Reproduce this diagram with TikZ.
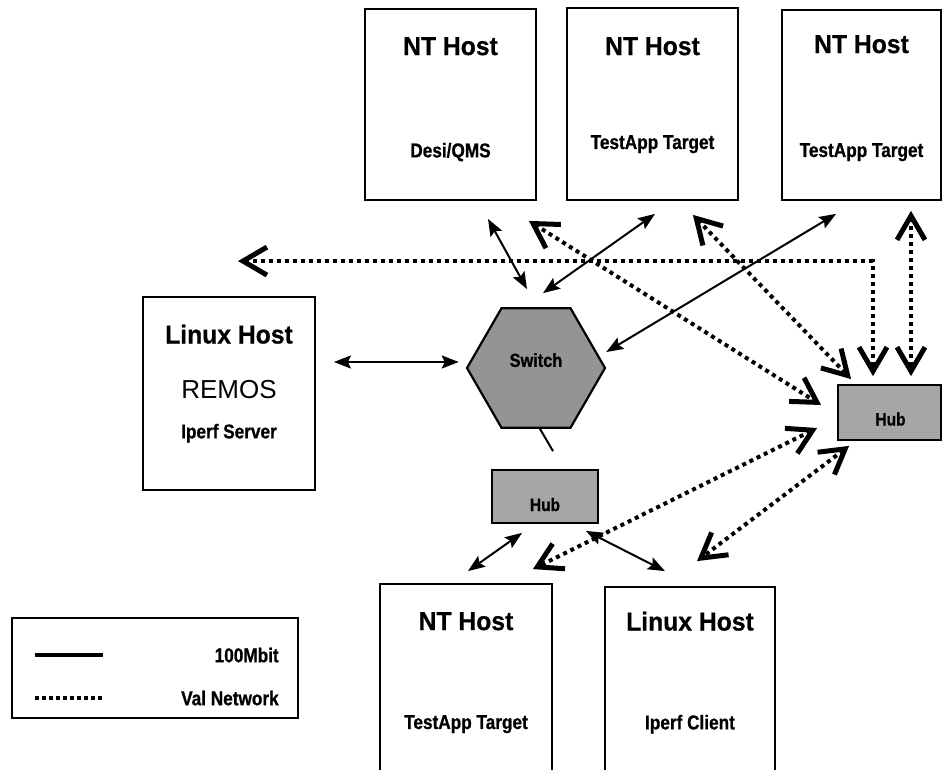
\documentclass[tikz,border=0pt]{standalone}
\usepackage{fontspec}
\setmainfont{Liberation Sans}
\newfontfamily\hostfont[FakeStretch=0.95,FakeBold=0.6]{Liberation Sans}
\newfontfamily\notefont[FakeStretch=0.86,FakeBold=0.8]{Liberation Sans}
\usetikzlibrary{arrows.meta,shapes.geometric}

\begin{document}
\begin{tikzpicture}[
    x = 1pt, y = -1pt,
    box/.style = {
      draw,
      line width = 1.8pt,
      inner sep = 0pt
    },
    hub/.style = {
      box,
      fill = black!35
    },
    title/.style = {
      font = \hostfont\bfseries\fontsize{26}{26}\selectfont,
      text depth = 0pt,
      inner sep = 0pt
    },
    task/.style = {
      font = \notefont\bfseries\fontsize{20}{20}\selectfont,
      text depth = 0pt,
      inner sep = 0pt
    },
    link/.style = {
      line width = 2pt,
      {Stealth[length = 17pt, width = 13pt, inset = 3pt]}-{Stealth[length = 17pt, width = 13pt, inset = 3pt]}
    },
    val/.style = {
      line width = 4pt,
      dash pattern = on 4pt off 4pt,
      {Straight Barb[length = 24pt, width = 28pt, line width = 5pt]}-{Straight Barb[length = 24pt, width = 28pt, line width = 5pt]}
    }
  ]
  \clip (0,0) rectangle (943,770);

  % hosts on top
  \node[box, minimum width = 171pt, minimum height = 191pt] (nt1) at (450.5,104.5) {};
  \node[title] (nt1t) at ([yshift=-38pt]nt1.north) {NT Host};
  \node[task] (nt1s) at ([yshift=-142pt]nt1.north) {Desi/QMS};

  \node[box, minimum width = 171pt, minimum height = 192pt] (nt2) at (652.5,104) {};
  \node[title] (nt2t) at ([yshift=-39pt]nt2.north) {NT Host};
  \node[task] (nt2s) at ([yshift=-135pt]nt2.north) {TestApp Target};

  \node[box, minimum width = 159pt, minimum height = 190pt] (nt3) at (861.5,105) {};
  \node[title] (nt3t) at ([yshift=-35pt]nt3.north) {NT Host};
  \node[task] (nt3s) at ([yshift=-141pt]nt3.north) {TestApp Target};

  % linux host with remos
  \node[box, minimum width = 172pt, minimum height = 193pt] (remos) at (229,393.5) {};
  \node[title] (remost) at ([yshift=-38pt]remos.north) {Linux Host};
  \node[font = \fontsize{26}{26}\selectfont, text depth = 0pt, inner sep = 0pt]
    (remosm) at ([yshift=-93pt]remos.north) {REMOS};
  \node[task] (remoss) at ([yshift=-135pt]remos.north) {Iperf Server};

  % switch and hubs
  \node[draw, regular polygon, regular polygon sides = 6, minimum size = 138pt,
    inner sep = 0pt, line width = 2.2pt, fill = black!42] (switch) at (536,368) {};
  \node[task, font = \notefont\bfseries\fontsize{19}{19}\selectfont]
    (switcht) at ([yshift=8pt]switch.center) {Switch};

  \node[hub, minimum width = 106pt, minimum height = 53pt] (hubs) at (545,496.5) {};
  \node[task, font = \notefont\bfseries\fontsize{18}{18}\selectfont]
    (hubst) at ([yshift=-8pt]hubs.center) {Hub};

  \node[hub, minimum width = 103pt, minimum height = 55pt] (hubr) at (889.5,412.5) {};
  \node[task, font = \notefont\bfseries\fontsize{18}{18}\selectfont]
    (hubrt) at ([xshift=1pt,yshift=-6.5pt]hubr.center) {Hub};

  % hosts at the bottom
  \node[box, minimum width = 172pt, minimum height = 200pt] (ntb) at (466,684) {};
  \node[title] (ntbt) at ([yshift=-38pt]ntb.north) {NT Host};
  \node[task] (ntbs) at ([yshift=-139pt]ntb.north) {TestApp Target};

  \node[box, minimum width = 170pt, minimum height = 200pt] (linb) at (690,687) {};
  \node[title] (linbt) at ([yshift=-35pt]linb.north) {Linux Host};
  \node[task] (linbs) at ([yshift=-136pt]linb.north) {Iperf Client};

  % legend
  \node[box, minimum width = 286pt, minimum height = 100pt] (lgd) at (155,668) {};
  \draw[line width = 4pt] ([xshift=24pt,yshift=13pt]lgd.west) -- ++(68,0);
  \draw[line width = 3.5pt, dash pattern = on 3.5pt off 3.5pt]
    ([xshift=24pt,yshift=-30pt]lgd.west) -- ++(68,0);
  \node[task, anchor = east] (mbit) at ([xshift=-20pt,yshift=13pt]lgd.east) {100Mbit};
  \node[task, anchor = east] (valnet) at ([xshift=-20pt,yshift=-30pt]lgd.east) {Val Network};

  % 100Mbit links
  \draw[link] ([xshift=18pt,yshift=31.5pt]remos.east) -- ([xshift=-7pt,yshift=6pt]switch.west);
  \draw[link] ([xshift=37.5pt,yshift=-18pt]nt1.south) -- ([xshift=-9pt,yshift=18pt]switch.north);
  \draw[link] ([xshift=2.5pt,yshift=-13pt]nt2.south) -- ([xshift=7pt,yshift=14pt]switch.north);
  \draw[link] ([xshift=55pt,yshift=-13pt]nt3.south west) -- ([yshift=16pt]switch.east);
  \draw[link] ([xshift=-23pt,yshift=-9pt]hubs.south) -- ([xshift=2pt,yshift=12pt]ntb.north);
  \draw[link] ([xshift=-13pt,yshift=-7pt]hubs.south east) -- ([xshift=-25pt,yshift=15pt]linb.north);
  \draw[line width = 2pt] ([xshift=4pt]switch.south) -- ([xshift=8pt,yshift=18pt]hubs.north);

  % val network
  \draw[val] ([xshift=9pt,yshift=35pt]remos.north) -| ([xshift=-16.5pt,yshift=8pt]hubr.north);
  \draw[val] ([xshift=49.5pt,yshift=-10pt]nt3.south) -- ([xshift=21.5pt,yshift=8pt]hubr.north);
  \draw[val] ([xshift=-8pt,yshift=-20pt]nt1.south east) -- ([xshift=-16pt,yshift=7.5pt]hubr.west);
  \draw[val] ([xshift=-46pt,yshift=-14pt]nt2.south east) -- ([xshift=14pt,yshift=5pt]hubr.north west);
  \draw[val] ([xshift=-20pt,yshift=-15.5pt]hubr.west) -- ([xshift=-20pt,yshift=14pt]ntb.north east);
  \draw[val] ([xshift=12pt,yshift=-5pt]hubr.south west) -- ([xshift=7pt,yshift=25pt]linb.north);

\end{tikzpicture}
\end{document}
